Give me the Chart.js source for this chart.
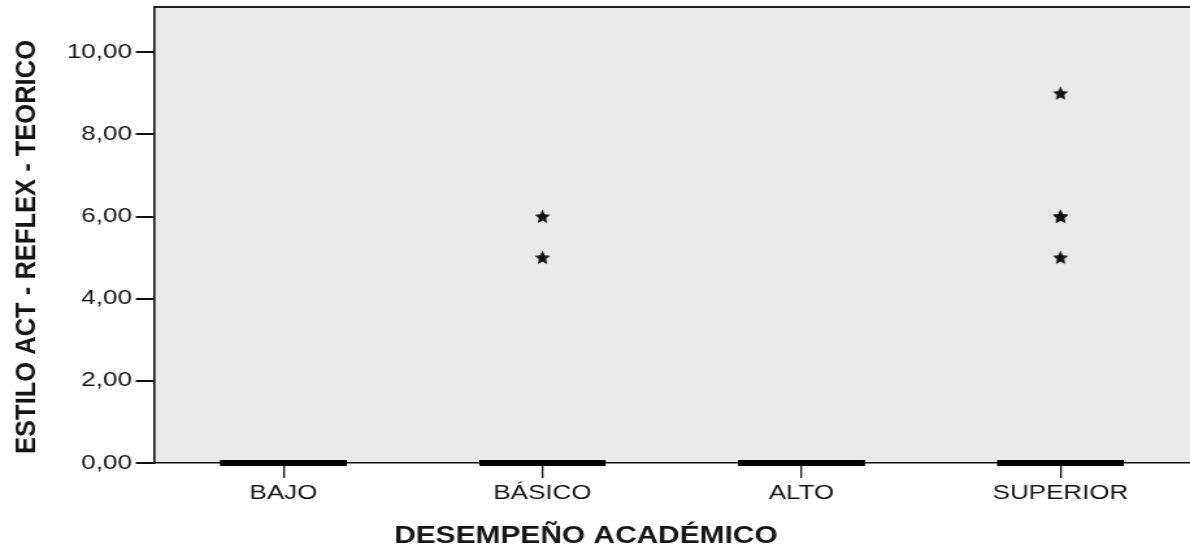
<!DOCTYPE html>
<html>
<head>
<meta charset="utf-8">
<script src="https://cdn.jsdelivr.net/npm/chart.js@4.4.1/dist/chart.umd.min.js"></script>
<style>
  html, body { margin: 0; padding: 0; background: #fff; overflow: hidden; }
  /* la figura original de SPSS está estirada en horizontal (~1.3x) */
  #wrap { width: 916px; height: 552px; position: relative; transform: scaleX(1.29913); transform-origin: 0 0; }
</style>
</head>
<body>
<div id="wrap"><canvas id="chart"></canvas></div>
<script>
// categorias del eje X y cajas (todas colapsadas en 0)
const categories = ["BAJO", "BÁSICO", "ALTO", "SUPERIOR"];
const q1Values = [0, 0, 0, 0];
const medianValues = [0, 0, 0, 0];
const q3Values = [0, 0, 0, 0];

// valores extremos (asteriscos) por categoría
const extremeCategory = ["BÁSICO", "BÁSICO", "SUPERIOR", "SUPERIOR", "SUPERIOR", "SUPERIOR"];
const extremeValues = [6, 5, 9, 6, 6, 5];

const yTicks = [0, 2, 4, 6, 8, 10];
const yMax = 11.1;

const xTitle = "DESEMPEÑO ACADÉMICO";
const yTitle = "ESTILO ACT - REFLEX - TEORICO";

const FONT_FAMILY = '"Liberation Sans", Arial, sans-serif';
const TEXT_COLOR = '#151515';

// estrella rellena de 5 puntas para los extremos
function makeStar(w, h) {
    const c = document.createElement('canvas');
    c.width = w; c.height = h;
    const g = c.getContext('2d');
    const cx = w / 2, cy = h / 2 + 0.5, R = h / 2, r = R * 0.47;
    g.beginPath();
    for (let i = 0; i < 10; i++) {
        const rad = (i % 2 === 0 ? R : r);
        const a = -Math.PI / 2 + i * Math.PI / 5;
        const px = cx + rad * Math.cos(a) * (w / h) * 0.95, py = cy + rad * Math.sin(a);
        if (i === 0) g.moveTo(px, py); else g.lineTo(px, py);
    }
    g.closePath();
    g.fillStyle = '#111';
    g.fill();
    return c;
}
const starImg = makeStar(13, 15);

// fondo gris del área, borde superior y títulos de ejes
const spssFrame = {
    id: 'spssFrame',
    beforeDraw(chart) {
        const { ctx, chartArea: a } = chart;
        ctx.save();
        ctx.fillStyle = '#e9e9e9';
        ctx.fillRect(a.left, a.top, a.right - a.left, a.bottom - a.top);
        ctx.strokeStyle = '#222';
        ctx.lineWidth = 2;
        ctx.beginPath();
        ctx.moveTo(a.left, a.top);
        ctx.lineTo(a.right, a.top);
        ctx.stroke();
        ctx.restore();
    },
    afterDraw(chart) {
        const { ctx } = chart;
        ctx.save();
        ctx.fillStyle = TEXT_COLOR;
        ctx.font = 'bold 23px ' + FONT_FAMILY;
        ctx.textAlign = 'center';
        ctx.textBaseline = 'middle';
        ctx.fillText(xTitle, 451, 537);
        ctx.translate(21, 247);
        ctx.rotate(-Math.PI / 2);
        ctx.scale(1.16, 1);
        ctx.font = 'bold 22px ' + FONT_FAMILY;
        ctx.fillText(yTitle, 0, 0);
        ctx.restore();
    }
};

const boxData = categories.map((c, i) => ({ x: c, y: medianValues[i] }));
const q1Data = categories.map((c, i) => ({ x: c, y: q1Values[i] }));
const q3Data = categories.map((c, i) => ({ x: c, y: q3Values[i] }));
const extremeData = extremeValues.map((v, i) => ({ x: extremeCategory[i], y: v }));

const lineBox = { type: 'line', showLine: false, pointStyle: 'line', pointRadius: 48.5, pointBorderWidth: 6, pointBorderColor: '#000', clip: false };

new Chart(document.getElementById('chart'), {
    type: 'line',
    data: {
        labels: categories,
        datasets: [
            Object.assign({ label: 'Q1', data: q1Data }, lineBox),
            Object.assign({ label: 'Q3', data: q3Data }, lineBox),
            Object.assign({ label: 'Mediana', data: boxData }, lineBox),
            { label: 'Extremos', data: extremeData, showLine: false, pointStyle: starImg, pointRadius: 7, clip: false }
        ]
    },
    options: {
        responsive: true, maintainAspectRatio: false, animation: false,
        layout: { autoPadding: false, padding: { top: 7, right: 0, left: 0, bottom: 0 } },
        plugins: { legend: { display: false }, tooltip: { enabled: false } },
        scales: {
            x: {
                type: 'category', offset: true,
                grid: { display: true, drawOnChartArea: false, tickLength: 15, color: '#111', lineWidth: 1.3, offset: false },
                border: { display: true, color: '#111', width: 1.6 },
                ticks: { color: TEXT_COLOR, font: { family: FONT_FAMILY, size: 20 }, padding: 3, maxRotation: 0 },
                afterFit(s) { s.height = 89; s.paddingLeft = 0; s.paddingRight = 0; }
            },
            y: {
                min: 0, max: yMax,
                afterBuildTicks(s) { s.ticks = yTicks.map(v => ({ value: v })); },
                grid: { display: true, drawOnChartArea: false, tickLength: 14, color: '#111', lineWidth: 2 },
                border: { display: true, color: '#111', width: 1.6 },
                ticks: { color: TEXT_COLOR, font: { family: FONT_FAMILY, size: 20 }, padding: 3,
                         callback: v => v.toFixed(2).replace('.', ',') },
                afterFit(s) { s.width = 118.5; s.paddingTop = 0; s.paddingBottom = 0; }
            }
        }
    },
    plugins: [spssFrame]
});
</script>
</body>
</html>
